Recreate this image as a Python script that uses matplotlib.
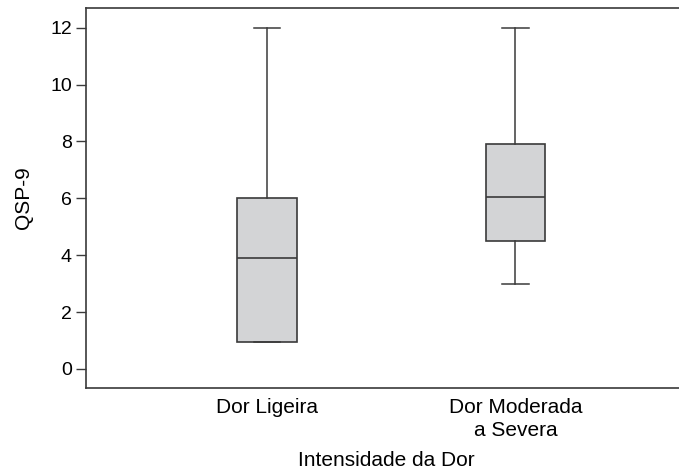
import matplotlib.pyplot as plt

plt.rcParams['font.family'] = ['Liberation Sans', 'DejaVu Sans']

categories = ['Dor Ligeira', 'Dor Moderada\na Severa']
whisker_low = [0.94, 2.98]
q1 = [0.94, 4.49]
median = [3.91, 6.06]
q3 = [6.0, 7.91]
whisker_high = [12.0, 12.0]

stats = []
for i in range(len(categories)):
    stats.append({'label': categories[i], 'whislo': whisker_low[i], 'q1': q1[i],
                  'med': median[i], 'q3': q3[i], 'whishi': whisker_high[i], 'fliers': []})

fig = plt.figure(figsize=(6.79, 4.75), dpi=100)
ax = fig.add_axes([86/679, 1 - 388/475, 1 - 86/679 + 0.01, (388 - 8)/475])

lc = '#3a3a3a'
ax.bxp(stats, positions=[1, 2], widths=0.24, capwidths=0.106, patch_artist=True,
       showfliers=False,
       boxprops=dict(facecolor='#d3d4d6', edgecolor=lc, linewidth=1.2),
       medianprops=dict(color=lc, linewidth=1.2),
       whiskerprops=dict(color=lc, linewidth=1.1),
       capprops=dict(color=lc, linewidth=1.1))

ax.set_xlim(0.271, 2.686)
ax.set_ylim(-0.668, 12.69)
ax.set_yticks([0, 2, 4, 6, 8, 10, 12])
ax.tick_params(axis='y', length=7.2, width=1, color=lc, labelsize=14, pad=3)
ax.tick_params(axis='x', length=0, labelsize=15, pad=7)
for t in ax.get_xticklabels():
    t.set_linespacing(1.3)
ax.set_ylabel('QSP-9', fontsize=15, labelpad=12)
ax.set_xlabel('Intensidade da Dor', fontsize=15, labelpad=8)
for s in ax.spines.values():
    s.set_color(lc)
    s.set_linewidth(1.2)
ax.spines['right'].set_visible(False)

fig.savefig('out.png', dpi=100)
